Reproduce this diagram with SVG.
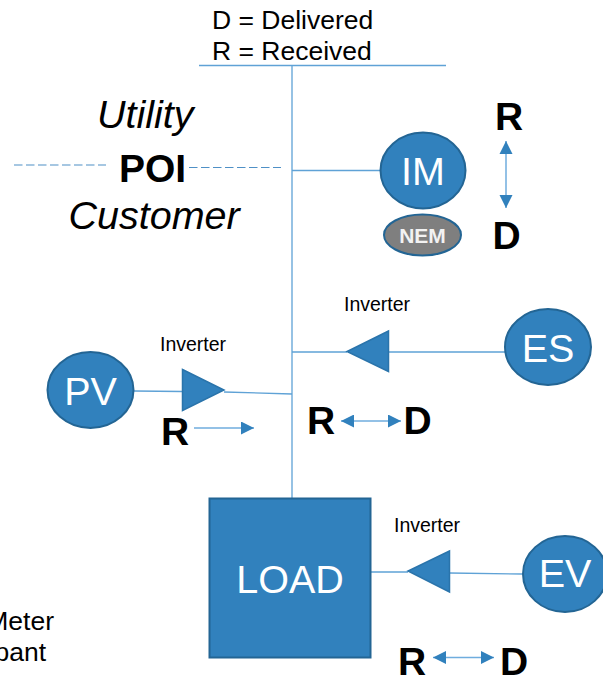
<svg xmlns="http://www.w3.org/2000/svg" width="603" height="678" viewBox="0 0 603 678">
<style>
text{font-family:"Liberation Sans",Arial,sans-serif;fill:#000}
.node{fill:#3181bd;stroke:#236594;stroke-width:2}
.lbl{fill:#fff;font-size:39.500px;text-anchor:middle}
.big{font-size:39px;font-weight:bold}
.inv{font-size:19.500px}
.key{font-size:26.500px}
.it{font-size:39.500px;font-style:italic}
.wire{fill:none;stroke:#5fa2d6;stroke-width:1.3}
.dash{fill:none;stroke:#4f90c6;stroke-width:1.2;stroke-dasharray:8.5 3.5}
.tri{fill:#3181bd;stroke:#2a74ab;stroke-width:1.5}
.flow{fill:none;stroke:#6fadde;stroke-width:1.5;marker-end:url(#h);marker-start:url(#hs)}
.flow1{fill:none;stroke:#6fadde;stroke-width:1.5;marker-end:url(#h)}
</style>
<defs>
<marker id="h" markerUnits="userSpaceOnUse" markerWidth="14" markerHeight="14" refX="13" refY="6.5" orient="auto"><path d="M0 0L13 6.5L0 13Z" fill="#3181bd"/></marker>
<marker id="hs" markerUnits="userSpaceOnUse" markerWidth="14" markerHeight="14" refX="0" refY="6.5" orient="auto"><path d="M13 0L0 6.5L13 13Z" fill="#3181bd"/></marker>
</defs>
<g id="connectors">
<path class="wire" d="M199 65.500H446M292 65.500V498M292 170.500H381M292 352H347M388 352H505M134 391L182 391.500M224 392L292 394M371 572H408M449 573L522 574"/>
<path class="dash" d="M14 165H106M189 167.500H281"/>
<path class="flow" d="M506 141V208"/>
<path class="flow1" d="M194 428H254"/>
<path class="flow" d="M341 421H401"/>
<path class="flow" d="M433 657.500H494"/>
</g>
<g id="legend"><text class="key" x="212" y="29">D = Delivered</text><text class="key" x="212" y="60">R = Received</text></g>
<g id="boundary">
<text class="it" x="97" y="128">Utility</text>
<text class="big" x="119" y="182">POI</text>
<text class="it" x="68.500" y="229">Customer</text>
</g>
<g id="node-im"><ellipse class="node" cx="423" cy="170.500" rx="42.500" ry="38"/><text class="lbl" x="423" y="185">IM</text></g>
<g id="node-nem"><ellipse cx="422.500" cy="235" rx="38.500" ry="20.500" fill="#7f7f7f" stroke="#236594" stroke-width="2"/><text x="422.500" y="243" font-size="21" font-weight="bold" text-anchor="middle" style="fill:#f2f2f2">NEM</text></g>
<g id="node-es"><ellipse class="node" cx="548" cy="347" rx="43" ry="38"/><text class="lbl" x="548" y="362">ES</text></g>
<g id="node-pv"><ellipse class="node" cx="90.500" cy="390" rx="43" ry="38"/><text class="lbl" x="90.500" y="405">PV</text></g>
<g id="node-ev"><ellipse class="node" cx="565" cy="574" rx="42" ry="38"/><text class="lbl" x="565" y="587">EV</text></g>
<g id="node-load"><rect class="node" x="209.500" y="498.500" width="161" height="159"/><text class="lbl" x="290" y="592.500">LOAD</text></g>
<g id="inverter-pv"><path class="tri" d="M182.500 369.500L224 390L182.500 410.500Z"/><text class="inv" x="160" y="351">Inverter</text></g>
<g id="inverter-es"><path class="tri" d="M388.500 331L347 351.500L388.500 371.500Z"/><text class="inv" x="344" y="311">Inverter</text></g>
<g id="inverter-ev"><path class="tri" d="M449.500 551L408 571L449.500 592Z"/><text class="inv" x="394" y="532">Inverter</text></g>
<g id="flow-labels">
<text class="big" x="495" y="130">R</text>
<text class="big" x="492.500" y="249">D</text>
<text class="big" x="161" y="445">R</text>
<text class="big" x="307" y="434">R</text>
<text class="big" x="403.500" y="434">D</text>
<text class="big" x="398" y="675">R</text>
<text class="big" x="500" y="675">D</text>
</g>
<g id="cropped-legend">
<text class="key" x="54" y="630" text-anchor="end">Meter</text>
<text class="key" x="46" y="660.500" text-anchor="end">pant</text>
</g>
</svg>
